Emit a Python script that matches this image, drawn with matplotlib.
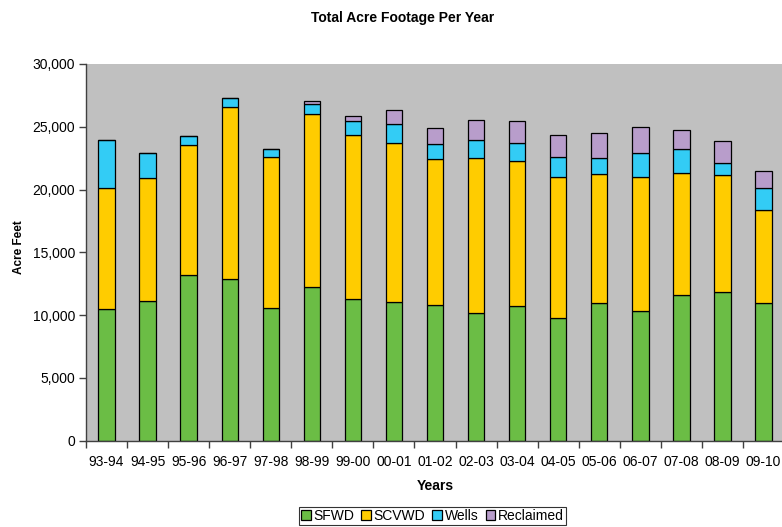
import numpy as np
import matplotlib.pyplot as plt
from matplotlib.ticker import FuncFormatter

plt.rcParams['font.family'] = ['Liberation Sans', 'DejaVu Sans']

years = ['93-94', '94-95', '95-96', '96-97', '97-98', '98-99', '99-00', '00-01',
         '01-02', '02-03', '03-04', '04-05', '05-06', '06-07', '07-08', '08-09', '09-10']
sfwd = [10490, 11120, 13190, 12900, 10590, 12210, 11310, 11020,
        10800, 10140, 10720, 9770, 10940, 10330, 11630, 11840, 10940]
scvwd = [9630, 9820, 10330, 13670, 12000, 13800, 13050, 12710,
         11630, 12340, 11520, 11250, 10270, 10640, 9660, 9340, 7400]
wells = [3800, 1990, 710, 690, 610, 770, 1070, 1510,
         1220, 1460, 1440, 1540, 1270, 1910, 1960, 930, 1760]
reclaimed = [0, 0, 0, 0, 0, 240, 420, 1090,
             1220, 1570, 1800, 1750, 1990, 2070, 1490, 1730, 1370]

series = [('SFWD', sfwd, '#6BBD45'),
          ('SCVWD', scvwd, '#FFCC00'),
          ('Wells', wells, '#33CCF5'),
          ('Reclaimed', reclaimed, '#B89DCB')]

fig = plt.figure(figsize=(7.82, 5.27), dpi=100)
ax = fig.add_axes([0.110, 0.1638, 0.8926, 0.7148])
ax.set_facecolor('#C0C0C0')

x = np.arange(len(years))
bottom = np.zeros(len(years))
for name, vals, col in series:
    vals = np.array(vals, dtype=float)
    ax.bar(x, vals, 0.4, bottom=bottom, color=col, edgecolor='black',
           linewidth=0.9, label=name)
    bottom += vals

ax.set_xlim(-0.5, len(years) - 0.5)
ax.set_ylim(0, 30000)
ax.set_yticks(range(0, 30001, 5000))
ax.yaxis.set_major_formatter(FuncFormatter(lambda v, p: f'{int(v):,}'))

# category labels centred, tick marks between categories
ax.set_xticks(x)
ax.set_xticklabels(years)
ax.set_xticks(np.arange(-0.5, len(years)), minor=True)
ax.tick_params(axis='x', which='major', length=0, pad=10.5, labelsize=10)
ax.tick_params(axis='x', which='minor', length=5, color='#404040', width=1)
ax.tick_params(axis='y', length=5, color='#404040', width=1, labelsize=10, pad=3)

for s in ['top', 'right']:
    ax.spines[s].set_visible(False)
for s in ['left', 'bottom']:
    ax.spines[s].set_color('#404040')
    ax.spines[s].set_linewidth(1)

ax.set_xlabel('Years', fontsize=10, fontweight='bold', labelpad=7)
ax.set_ylabel('Acre Feet', fontsize=8.5, fontweight='bold', labelpad=5)
ax.yaxis.set_label_coords(-0.088, 0.515)
fig.text(0.515, 0.965, 'Total Acre Footage Per Year', ha='center', va='center',
         fontsize=10, fontweight='bold')

leg = fig.legend(loc='upper center', bbox_to_anchor=(0.553, 0.038), ncol=4,
                 fontsize=10, frameon=True, fancybox=False, handlelength=0.7,
                 handleheight=0.7, handletextpad=0.2, columnspacing=0.5,
                 borderpad=0.15, borderaxespad=0)
leg.get_frame().set_edgecolor('black')
leg.get_frame().set_linewidth(0.8)

fig.savefig('out.png', dpi=100)
